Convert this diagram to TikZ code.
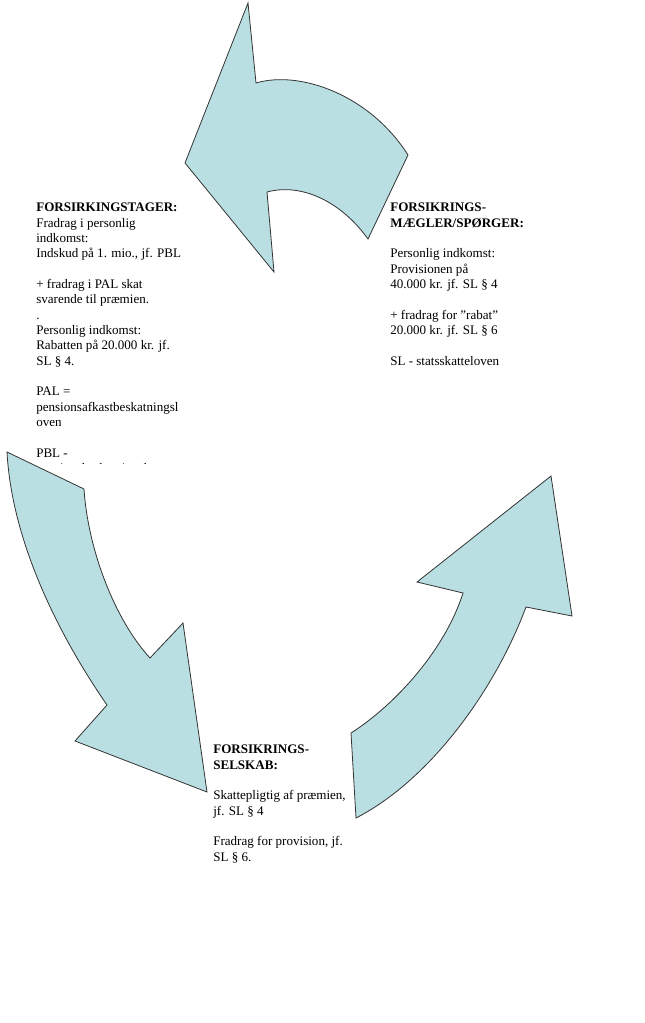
\documentclass[tikz,border=0pt]{standalone}
\usepackage{fontspec}
\setmainfont{Liberation Serif}
\usetikzlibrary{positioning}
\definecolor{pilblaa}{RGB}{185,223,227}

\begin{document}
\begin{tikzpicture}[
    x=0.75pt, y=-0.75pt,
    pil/.style={draw=black!80, fill=pilblaa, line width=0.6pt, line join=miter},
    tekst/.style={anchor=north west, inner sep=0pt, align=left, font=\fontsize{9.8pt}{11.5pt}\selectfont},
]
    \useasboundingbox (0,0) rectangle (645,1023);
    % pile
    \draw[pil] (248,3) -- (256,83) .. controls (300,70) and (370,95) .. (408,155)
        -- (368,239) .. controls (340,200) and (300,183) .. (267,192)
        -- (274,272) -- (185,163) -- cycle;
    \draw[pil] (7,452) -- (84,489) .. controls (88,550) and (115,620) .. (150,658)
        -- (183,623) -- (207,792) -- (75,741) -- (107,705)
        .. controls (62,640) and (12,545) .. (7,452) -- cycle;
    \draw[pil] (356,818) -- (351,733) .. controls (395,705) and (445,650) .. (463,593)
        -- (417,582) -- (551,476) -- (572,616) -- (526,607)
        .. controls (495,690) and (430,780) .. (356,818) -- cycle;
    % tekster
    \begin{scope}
        \clip (0,0) rectangle (645,463);
        \node[tekst] (tager) at (36,203) {\textbf{FORSIRKINGSTAGER:}\\ Fradrag i personlig\\ indkomst:\\ Indskud på 1. mio., jf. PBL\\ \\ + fradrag i PAL skat\\ svarende til præmien.\\ .\\ Personlig indkomst:\\ Rabatten på 20.000 kr. jf.\\ SL § 4.\\ \\ PAL =\\ pensionsafkastbeskatningsl\\ oven\\ \\ PBL -\\ pensionsbeskatningsloven};
    \end{scope}
    \node[tekst] (maegler) at (390,203) {\textbf{FORSIKRINGS-}\\ \textbf{MÆGLER/SPØRGER:}\\ \\ Personlig indkomst:\\ Provisionen på\\ 40.000 kr. jf. SL § 4\\ \\ + fradrag for ”rabat”\\ 20.000 kr. jf. SL § 6\\ \\ SL - statsskatteloven};
    \node[tekst] (selskab) at (213,745) {\textbf{FORSIKRINGS-}\\ \textbf{SELSKAB:}\\ \\ Skattepligtig af præmien,\\ jf. SL § 4\\ \\ Fradrag for provision, jf.\\ SL § 6.};
\end{tikzpicture}
\end{document}
